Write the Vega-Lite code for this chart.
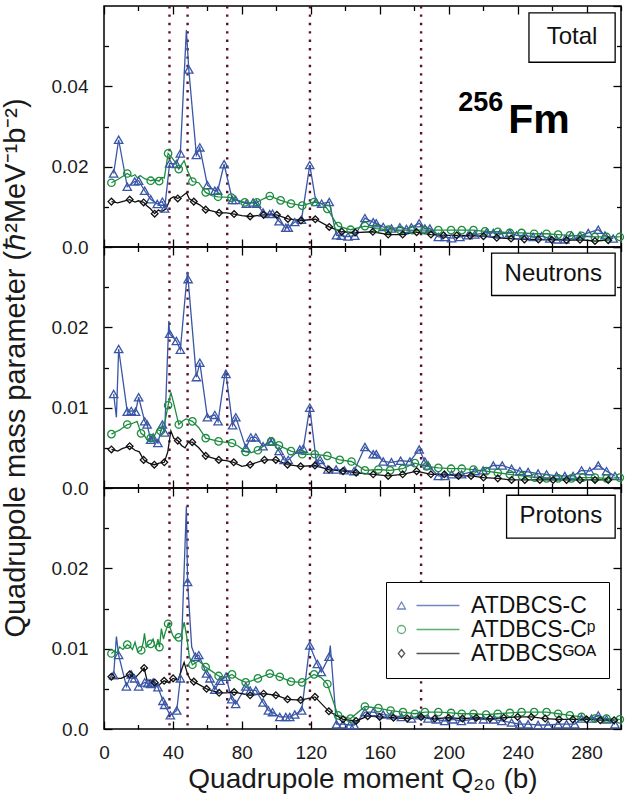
{
"$schema":"https://vega.github.io/schema/vega-lite/v6.json",
"padding":{"left":0,"top":4,"right":0,"bottom":0},
"bounds":"flush",
"config":{"font":"Liberation Sans","view":{"stroke":"#000","strokeWidth":1.5},
"axis":{"domain":false,"grid":false,"tickColor":"#000","tickWidth":1.3,"labelColor":"#1a1a1a","titleColor":"#1a1a1a","labelFontSize":19,"titleFontSize":25,"titleFontWeight":"normal","labelFlush":false,"labelOverlap":false,"labelBound":false}},
"datasets":{
"guides":[{"q":38},{"q":48.5},{"q":71.5},{"q":119.5},{"q":184}],
"tC":[{"q":5.6,"v":0.0183},{"q":8.5,"v":0.0267},{"q":13.5,"v":0.015},{"q":17.8,"v":0.0163},{"q":20.1,"v":0.0165},{"q":23.6,"v":0.014},{"q":27.1,"v":0.0119},{"q":30.9,"v":0.0107},{"q":33.9,"v":0.0113},{"q":35.2,"v":0.0096},{"q":38.1,"v":0.0208},{"q":42,"v":0.0207},{"q":44.3,"v":0.0233},{"q":47.8,"v":0.054,"m":0},{"q":49.2,"v":0.0442},{"q":53.6,"v":0.0229},{"q":55.6,"v":0.0248},{"q":60,"v":0.0154},{"q":64.3,"v":0.014},{"q":66,"v":0.014},{"q":69.7,"v":0.0206},{"q":74.5,"v":0.0117},{"q":76.4,"v":0.0117},{"q":82.6,"v":0.0108},{"q":86.5,"v":0.0111},{"q":88.5,"v":0.0108},{"q":92.3,"v":0.0086},{"q":96.2,"v":0.0082},{"q":97.8,"v":0.0083},{"q":101.6,"v":0.0064},{"q":105.5,"v":0.0048},{"q":106.9,"v":0.0048},{"q":110.7,"v":0.0062},{"q":114.6,"v":0.0068},{"q":119.4,"v":0.0204},{"q":123,"v":0.0112},{"q":126.3,"v":0.0108},{"q":130.7,"v":0.0112},{"q":134.9,"v":0.0029},{"q":137.7,"v":0.0028},{"q":141.6,"v":0.0026},{"q":145.5,"v":0.0028},{"q":151.4,"v":0.0072},{"q":156.2,"v":0.0062},{"q":158,"v":0.0059},{"q":162,"v":0.005},{"q":166.8,"v":0.0046},{"q":171.7,"v":0.0049},{"q":175.5,"v":0.0045},{"q":178.4,"v":0.0049},{"q":182.9,"v":0.0059},{"q":186.2,"v":0.0046},{"q":189.1,"v":0.0046},{"q":194,"v":0.0025},{"q":197.8,"v":0.0025},{"q":201.7,"v":0.0022},{"q":206.5,"v":0.0025},{"q":211.3,"v":0.0029},{"q":215.2,"v":0.0031},{"q":222,"v":0.0036},{"q":225.9,"v":0.0035},{"q":229.7,"v":0.0033},{"q":235.5,"v":0.0035},{"q":239.4,"v":0.0029},{"q":244.2,"v":0.0029},{"q":249,"v":0.0025},{"q":253.9,"v":0.0027},{"q":258.7,"v":0.0021},{"q":262.6,"v":0.0019},{"q":267.4,"v":0.0019},{"q":271.3,"v":0.0029},{"q":276.2,"v":0.0028},{"q":281,"v":0.0035},{"q":286.8,"v":0.0043},{"q":290.7,"v":0.0029},{"q":295.5,"v":0.0021}],
"tCp":[{"q":4.3,"v":0.016},{"q":8,"v":0.0168,"m":0},{"q":10.5,"v":0.0175,"m":0},{"q":13.5,"v":0.0183},{"q":16,"v":0.0176,"m":0},{"q":18,"v":0.018,"m":0},{"q":19.3,"v":0.0172,"m":0},{"q":21,"v":0.0178,"m":0},{"q":23.5,"v":0.017,"m":0},{"q":25.5,"v":0.0168,"m":0},{"q":27.1,"v":0.0165},{"q":29.5,"v":0.0168,"m":0},{"q":32,"v":0.0164},{"q":33.5,"v":0.0173,"m":0},{"q":35,"v":0.0172,"m":0},{"q":37.2,"v":0.0233},{"q":39.5,"v":0.0222,"m":0},{"q":41.5,"v":0.021,"m":0},{"q":43.4,"v":0.0194},{"q":45,"v":0.0205,"m":0},{"q":46.5,"v":0.0215,"m":0},{"q":48.5,"v":0.019,"m":0},{"q":51.3,"v":0.0163},{"q":55,"v":0.016,"m":0},{"q":59,"v":0.0136},{"q":62.5,"v":0.0128,"m":0},{"q":66.2,"v":0.0125},{"q":70,"v":0.0124,"m":0},{"q":73.9,"v":0.0123},{"q":77.8,"v":0.0116,"m":0},{"q":81.7,"v":0.0111},{"q":85,"v":0.011,"m":0},{"q":88.7,"v":0.0111},{"q":92.5,"v":0.012,"m":0},{"q":96.2,"v":0.0127},{"q":102.5,"v":0.0116},{"q":108.5,"v":0.0108},{"q":115,"v":0.0103},{"q":121.9,"v":0.0112},{"q":126,"v":0.0108,"m":0},{"q":129.6,"v":0.0095},{"q":135.8,"v":0.0052},{"q":143.1,"v":0.0043},{"q":151.4,"v":0.0052},{"q":158,"v":0.0046},{"q":165,"v":0.0043},{"q":172,"v":0.0042},{"q":179,"v":0.0042},{"q":186,"v":0.0042},{"q":194,"v":0.0042},{"q":201.4,"v":0.0042},{"q":207.6,"v":0.0042},{"q":214.4,"v":0.0042},{"q":221.1,"v":0.0039},{"q":228.5,"v":0.0038},{"q":235.5,"v":0.0035},{"q":242.3,"v":0.0035},{"q":249.6,"v":0.0033},{"q":256.8,"v":0.0033},{"q":263.5,"v":0.0031},{"q":270.3,"v":0.0029},{"q":277.1,"v":0.0028},{"q":284.8,"v":0.0025},{"q":291.6,"v":0.0025},{"q":299.3,"v":0.0025}],
"tG":[{"q":4.3,"v":0.0113},{"q":8,"v":0.011,"m":0},{"q":10.5,"v":0.0113,"m":0},{"q":14.9,"v":0.0118},{"q":18,"v":0.0112,"m":0},{"q":20,"v":0.0115,"m":0},{"q":23,"v":0.0111},{"q":25,"v":0.0102,"m":0},{"q":27,"v":0.0095,"m":0},{"q":29.4,"v":0.0083},{"q":31.5,"v":0.0092,"m":0},{"q":33.5,"v":0.0088,"m":0},{"q":36,"v":0.0095,"m":0},{"q":38.5,"v":0.012,"m":0},{"q":40.5,"v":0.0125,"m":0},{"q":42.8,"v":0.0121},{"q":45,"v":0.0125,"m":0},{"q":47.9,"v":0.0135,"m":0},{"q":49.5,"v":0.012,"m":0},{"q":52.1,"v":0.0113},{"q":55.5,"v":0.0105,"m":0},{"q":59,"v":0.0093},{"q":62.5,"v":0.009,"m":0},{"q":66.8,"v":0.0085},{"q":71,"v":0.0085,"m":0},{"q":75.5,"v":0.0082},{"q":80,"v":0.0078,"m":0},{"q":84.8,"v":0.0076},{"q":88.7,"v":0.0078,"m":0},{"q":92.6,"v":0.008},{"q":100.3,"v":0.008},{"q":106.7,"v":0.007},{"q":114.3,"v":0.0066},{"q":122.6,"v":0.0069},{"q":130.7,"v":0.005},{"q":138,"v":0.0038},{"q":145.8,"v":0.0036},{"q":156,"v":0.0038},{"q":164.9,"v":0.0031},{"q":173.3,"v":0.0031},{"q":181.4,"v":0.0037},{"q":189.7,"v":0.0031},{"q":197,"v":0.0029},{"q":204.7,"v":0.0029},{"q":212.4,"v":0.0028},{"q":220.2,"v":0.0027},{"q":227.9,"v":0.0023},{"q":236.2,"v":0.0021},{"q":243.9,"v":0.0019},{"q":252,"v":0.0019},{"q":259.8,"v":0.0018},{"q":268.4,"v":0.0017},{"q":276.2,"v":0.0018},{"q":284.9,"v":0.0015},{"q":292.6,"v":0.0017}],
"nC":[{"q":5.6,"v":0.0117},{"q":7.2,"v":0.0088,"m":0},{"q":8.5,"v":0.0173},{"q":13.5,"v":0.0095},{"q":15.8,"v":0.0096},{"q":18.3,"v":0.0095},{"q":20.1,"v":0.0113},{"q":23.6,"v":0.0083},{"q":25,"v":0.0079},{"q":27.1,"v":0.006},{"q":28.5,"v":0.0063},{"q":31.3,"v":0.0056},{"q":33.9,"v":0.0079},{"q":35.2,"v":0.0069},{"q":37.6,"v":0.0208,"m":0},{"q":38.1,"v":0.0192},{"q":42,"v":0.0183},{"q":44.3,"v":0.0172},{"q":48.4,"v":0.0269,"m":0},{"q":48.8,"v":0.026},{"q":53.6,"v":0.0138},{"q":55.6,"v":0.0156},{"q":60,"v":0.0088},{"q":64.3,"v":0.0091},{"q":66.2,"v":0.0083},{"q":70.5,"v":0.0147,"m":0},{"q":70.8,"v":0.0142},{"q":74.6,"v":0.0078},{"q":76.5,"v":0.0088},{"q":82.3,"v":0.005},{"q":85.2,"v":0.0063},{"q":88.1,"v":0.0063},{"q":92.3,"v":0.0052},{"q":96.2,"v":0.0058},{"q":97.6,"v":0.0058},{"q":101.6,"v":0.0046},{"q":104.5,"v":0.0035},{"q":106.9,"v":0.0035},{"q":113.6,"v":0.0048},{"q":115.6,"v":0.0049},{"q":119.4,"v":0.01},{"q":123.3,"v":0.0031},{"q":125.4,"v":0.0035},{"q":129.9,"v":0.0023},{"q":134.7,"v":0.0023},{"q":139.5,"v":0.0022},{"q":145.1,"v":0.0021},{"q":151.4,"v":0.0051},{"q":156.2,"v":0.0042},{"q":158,"v":0.0042},{"q":162,"v":0.0033},{"q":166.8,"v":0.0032},{"q":172.1,"v":0.0034},{"q":177.5,"v":0.0033},{"q":182.9,"v":0.0048},{"q":186.2,"v":0.0033},{"q":188.1,"v":0.0028},{"q":194,"v":0.0015},{"q":197.8,"v":0.0015},{"q":201.7,"v":0.0017},{"q":207.5,"v":0.0017},{"q":215.2,"v":0.0021},{"q":220,"v":0.0022},{"q":225.9,"v":0.0028},{"q":231.1,"v":0.0028},{"q":236.5,"v":0.0024},{"q":241.3,"v":0.0021},{"q":246.1,"v":0.002},{"q":251.9,"v":0.0018},{"q":256.8,"v":0.0017},{"q":262.6,"v":0.0015},{"q":267.4,"v":0.0015},{"q":272.2,"v":0.0015},{"q":277.1,"v":0.0022},{"q":281.9,"v":0.0021},{"q":286.8,"v":0.0028},{"q":291.6,"v":0.0021},{"q":296.5,"v":0.0015}],
"nCp":[{"q":4.3,"v":0.0067},{"q":7,"v":0.007,"m":0},{"q":9,"v":0.0072,"m":0},{"q":13.5,"v":0.0079},{"q":16,"v":0.008,"m":0},{"q":19.2,"v":0.0083,"m":0},{"q":21.5,"v":0.0068},{"q":23.5,"v":0.0065,"m":0},{"q":25,"v":0.006,"m":0},{"q":27.1,"v":0.0062},{"q":29.5,"v":0.0066,"m":0},{"q":31,"v":0.0073,"m":0},{"q":32.9,"v":0.0071},{"q":35,"v":0.0078,"m":0},{"q":37.2,"v":0.0103},{"q":38.8,"v":0.0119,"m":0},{"q":40.5,"v":0.0105,"m":0},{"q":43.4,"v":0.0079},{"q":45.5,"v":0.0083,"m":0},{"q":47.5,"v":0.0086,"m":0},{"q":51.3,"v":0.0083},{"q":55,"v":0.0075,"m":0},{"q":59,"v":0.0062},{"q":66.5,"v":0.0058},{"q":74.3,"v":0.0056},{"q":78,"v":0.0052,"m":0},{"q":82.2,"v":0.0045},{"q":85.5,"v":0.0044,"m":0},{"q":89.3,"v":0.0047},{"q":93,"v":0.0053,"m":0},{"q":97,"v":0.0058},{"q":101.5,"v":0.0053},{"q":108.5,"v":0.0046},{"q":115,"v":0.0042},{"q":122.3,"v":0.0042},{"q":129.6,"v":0.004},{"q":136.8,"v":0.0035},{"q":143.6,"v":0.0033},{"q":151.4,"v":0.0022},{"q":159.2,"v":0.0023},{"q":166,"v":0.0022},{"q":173.3,"v":0.0024},{"q":180.4,"v":0.0031},{"q":187.2,"v":0.0027},{"q":194,"v":0.0025},{"q":201.4,"v":0.0024},{"q":207.6,"v":0.0024},{"q":214.4,"v":0.0023},{"q":221.7,"v":0.0021},{"q":228.5,"v":0.0019},{"q":235.5,"v":0.0017},{"q":242.6,"v":0.0015},{"q":250,"v":0.0013},{"q":256.8,"v":0.0012},{"q":263.5,"v":0.0012},{"q":271.3,"v":0.0012},{"q":277.7,"v":0.0013},{"q":284.9,"v":0.0013},{"q":291.6,"v":0.0012},{"q":299.3,"v":0.0013}],
"nG":[{"q":4.3,"v":0.0048},{"q":8,"v":0.0046,"m":0},{"q":10.5,"v":0.0049,"m":0},{"q":14.9,"v":0.0052},{"q":18,"v":0.0047,"m":0},{"q":20.5,"v":0.0045,"m":0},{"q":23,"v":0.0035},{"q":26,"v":0.0031,"m":0},{"q":29.2,"v":0.0029},{"q":32,"v":0.0031,"m":0},{"q":35,"v":0.0032},{"q":37,"v":0.0045,"m":0},{"q":38.8,"v":0.0071,"m":0},{"q":40.5,"v":0.0062,"m":0},{"q":42.8,"v":0.0059},{"q":45,"v":0.0053,"m":0},{"q":47,"v":0.005,"m":0},{"q":49,"v":0.0057,"m":0},{"q":51.2,"v":0.0057},{"q":55,"v":0.005,"m":0},{"q":59,"v":0.004},{"q":66.6,"v":0.0035},{"q":71,"v":0.0034,"m":0},{"q":75.3,"v":0.0032},{"q":80,"v":0.0027,"m":0},{"q":84.8,"v":0.0029},{"q":93.1,"v":0.0035},{"q":99.7,"v":0.0035},{"q":106.5,"v":0.0029},{"q":114.1,"v":0.0027},{"q":122.4,"v":0.0028},{"q":130.5,"v":0.0023},{"q":138.7,"v":0.0021},{"q":146.3,"v":0.0019},{"q":156.2,"v":0.0017},{"q":164.9,"v":0.0015},{"q":173.3,"v":0.0017},{"q":181.4,"v":0.0021},{"q":189.7,"v":0.0017},{"q":197.5,"v":0.0017},{"q":205.7,"v":0.0015},{"q":213,"v":0.0015},{"q":220.2,"v":0.0013},{"q":228.5,"v":0.0012},{"q":236.5,"v":0.001},{"q":244.2,"v":0.001},{"q":252.9,"v":0.001},{"q":260.6,"v":0.001},{"q":268.4,"v":0.001},{"q":276.2,"v":0.001},{"q":284.9,"v":0.001},{"q":292.6,"v":0.001}],
"pC":[{"q":5.6,"v":0.0067},{"q":7.2,"v":0.0115,"m":0},{"q":8.5,"v":0.0092},{"q":13,"v":0.0053},{"q":15.8,"v":0.0068},{"q":17.7,"v":0.0063},{"q":20.1,"v":0.0053},{"q":23.6,"v":0.0058},{"q":25.5,"v":0.0057},{"q":27.1,"v":0.0056},{"q":28.5,"v":0.0058},{"q":31.3,"v":0.0052},{"q":34.2,"v":0.0035},{"q":35.2,"v":0.003},{"q":38.5,"v":0.0017},{"q":42.2,"v":0.0023},{"q":44.3,"v":0.0063},{"q":47.8,"v":0.0277,"m":0},{"q":48.5,"v":0.0183},{"q":50.9,"v":0.0102,"m":0},{"q":53,"v":0.009},{"q":55,"v":0.0092},{"q":59.5,"v":0.0069},{"q":61.5,"v":0.0063},{"q":64.3,"v":0.0049},{"q":67.3,"v":0.006},{"q":70.8,"v":0.0065},{"q":74.1,"v":0.0037},{"q":76.4,"v":0.0031},{"q":82.3,"v":0.0053},{"q":84.8,"v":0.0048},{"q":88.1,"v":0.0048},{"q":92.3,"v":0.0033},{"q":95.4,"v":0.0023},{"q":97.8,"v":0.0021},{"q":102,"v":0.0015},{"q":105.5,"v":0.0015},{"q":107.8,"v":0.0015},{"q":110.7,"v":0.0018},{"q":114.7,"v":0.0023},{"q":119.4,"v":0.0104},{"q":123.8,"v":0.0081},{"q":126.1,"v":0.0071},{"q":130.6,"v":0.009},{"q":131.3,"v":0.0104,"m":0},{"q":134.9,"v":0.0006},{"q":138.7,"v":0.0006},{"q":142.6,"v":0.0005},{"q":145.2,"v":0.0005},{"q":151.4,"v":0.0021},{"q":156.2,"v":0.0021},{"q":162,"v":0.0018},{"q":166.8,"v":0.0017},{"q":172.6,"v":0.0015},{"q":178.4,"v":0.0013},{"q":183.2,"v":0.0017},{"q":188,"v":0.0013},{"q":192.9,"v":0.0012},{"q":197.7,"v":0.001},{"q":202.5,"v":0.0012},{"q":207.4,"v":0.001},{"q":213.4,"v":0.0012},{"q":220.2,"v":0.0012},{"q":226,"v":0.0012},{"q":230.9,"v":0.001},{"q":236.5,"v":0.0008},{"q":241.3,"v":0.0006},{"q":246.1,"v":0.0006},{"q":251.9,"v":0.0005},{"q":257.7,"v":0.0005},{"q":263.5,"v":0.0006},{"q":268.4,"v":0.0006},{"q":273.2,"v":0.0006},{"q":277.1,"v":0.0013},{"q":282.9,"v":0.0013},{"q":286.8,"v":0.0017},{"q":291.6,"v":0.0012},{"q":296.5,"v":0.0006}],
"pCp":[{"q":4.3,"v":0.0094},{"q":6,"v":0.0097,"m":0},{"q":7.5,"v":0.0095,"m":0},{"q":9,"v":0.0102,"m":0},{"q":11,"v":0.0099,"m":0},{"q":13.5,"v":0.0105},{"q":15,"v":0.0103,"m":0},{"q":16.5,"v":0.0099,"m":0},{"q":18,"v":0.0108,"m":0},{"q":19.5,"v":0.0096,"m":0},{"q":21.6,"v":0.0098},{"q":22.8,"v":0.0108,"m":0},{"q":23.5,"v":0.0119,"m":0},{"q":24.5,"v":0.0102,"m":0},{"q":26,"v":0.0105,"m":0},{"q":27.1,"v":0.0106},{"q":28.5,"v":0.0112,"m":0},{"q":30,"v":0.01,"m":0},{"q":31.3,"v":0.0112,"m":0},{"q":32.2,"v":0.0102},{"q":33.3,"v":0.0125,"m":0},{"q":34.5,"v":0.0112,"m":0},{"q":35.5,"v":0.012,"m":0},{"q":37.2,"v":0.0131},{"q":38.5,"v":0.0125,"m":0},{"q":39.8,"v":0.0117,"m":0},{"q":41,"v":0.0113,"m":0},{"q":43.4,"v":0.0114},{"q":45,"v":0.0117,"m":0},{"q":46.5,"v":0.0133,"m":0},{"q":48,"v":0.0115,"m":0},{"q":49.5,"v":0.009,"m":0},{"q":51.3,"v":0.008},{"q":55,"v":0.0085,"m":0},{"q":59,"v":0.0077},{"q":62.5,"v":0.0072,"m":0},{"q":66.5,"v":0.0066},{"q":70,"v":0.0064,"m":0},{"q":74.3,"v":0.0068},{"q":78,"v":0.0062,"m":0},{"q":82.2,"v":0.0058},{"q":85.5,"v":0.006,"m":0},{"q":89.3,"v":0.0063},{"q":96.2,"v":0.0069},{"q":102,"v":0.0065},{"q":108.5,"v":0.0059},{"q":115,"v":0.0058},{"q":121.9,"v":0.0068},{"q":126,"v":0.0064,"m":0},{"q":129.6,"v":0.0056},{"q":135.8,"v":0.0017},{"q":143.1,"v":0.0013},{"q":151.4,"v":0.0028},{"q":159.2,"v":0.0026},{"q":166.3,"v":0.0023},{"q":173.5,"v":0.0021},{"q":180.4,"v":0.0019},{"q":186.2,"v":0.0021},{"q":194,"v":0.0021},{"q":201.4,"v":0.002},{"q":207.6,"v":0.0019},{"q":214.4,"v":0.0019},{"q":221.7,"v":0.0018},{"q":228.5,"v":0.0019},{"q":235.5,"v":0.002},{"q":242.3,"v":0.0021},{"q":249.6,"v":0.0021},{"q":256.8,"v":0.0021},{"q":263.5,"v":0.0019},{"q":270.3,"v":0.0017},{"q":277.1,"v":0.0015},{"q":284.8,"v":0.0013},{"q":291.6,"v":0.0013},{"q":299.3,"v":0.0012}],
"pG":[{"q":4.3,"v":0.0065},{"q":7,"v":0.0063,"m":0},{"q":10,"v":0.0063,"m":0},{"q":14.9,"v":0.0068},{"q":17.7,"v":0.0063,"m":0},{"q":20,"v":0.0068,"m":0},{"q":23.3,"v":0.0076},{"q":25,"v":0.006,"m":0},{"q":27,"v":0.0061,"m":0},{"q":29.4,"v":0.0058},{"q":31.5,"v":0.0054,"m":0},{"q":34.9,"v":0.006},{"q":37.5,"v":0.0058,"m":0},{"q":40.1,"v":0.0063},{"q":43,"v":0.0061,"m":0},{"q":46.5,"v":0.0083,"m":0},{"q":48.5,"v":0.0068,"m":0},{"q":50,"v":0.0062,"m":0},{"q":52.1,"v":0.0059},{"q":55.5,"v":0.0055,"m":0},{"q":59.5,"v":0.005},{"q":66.8,"v":0.0045},{"q":71,"v":0.0045,"m":0},{"q":75.5,"v":0.0046},{"q":84.8,"v":0.0042},{"q":92.6,"v":0.0044},{"q":99.7,"v":0.0042},{"q":106.5,"v":0.0037},{"q":114.1,"v":0.0036},{"q":122.4,"v":0.004},{"q":130.5,"v":0.0022},{"q":138.7,"v":0.0012},{"q":146.3,"v":0.001},{"q":153,"v":0.0016},{"q":160,"v":0.0015},{"q":168,"v":0.0014},{"q":176,"v":0.0013},{"q":184,"v":0.0015},{"q":192,"v":0.0013},{"q":200,"v":0.0014},{"q":208,"v":0.0013},{"q":216,"v":0.0014},{"q":224,"v":0.0013},{"q":232,"v":0.0014},{"q":240,"v":0.0015},{"q":248,"v":0.0015},{"q":256,"v":0.0013},{"q":264,"v":0.0012},{"q":272,"v":0.0012},{"q":280,"v":0.0012},{"q":288,"v":0.0011},{"q":296,"v":0.0011}]
},
"spacing":0,
"vconcat":[
{"width":517,"height":241,
"resolve":{"axis":{"x":"independent","y":"independent"}},
"layer":[
{"data":{"name":"guides"},"mark":{"type":"rule","color":"#5e0f2e","strokeDash":[2.4,6],"strokeWidth":2.4},
 "encoding":{"x":{"field":"q","type":"quantitative","scale":{"domain":[0,300],"nice":false},"axis":{"orient":"top","values":[0,40,80,120,160,200,240,280],"tickSize":-8,"labels":false,"title":null}}}},
{"data":{"name":"tC"},"mark":{"type":"line","color":"#3a56a6","strokeWidth":1.3},
 "encoding":{"x":{"field":"q","type":"quantitative","scale":{"domain":[0,300],"nice":false},"axis":{"orient":"bottom","values":[0,40,80,120,160,200,240,280],"tickSize":-8,"labels":false,"title":null}},
 "y":{"field":"v","type":"quantitative","scale":{"domain":[0,0.06],"nice":false},"axis":{"orient":"left","values":[0,0.02,0.04],"tickSize":-8,"labelPadding":24,"labelExpr":"datum.value === 0 ? '0.0' : format(datum.value, '.2f')","title":null}}}},
{"data":{"name":"tCp"},"mark":{"type":"line","color":"#1c8d3f","strokeWidth":1.3},
 "encoding":{"x":{"field":"q","type":"quantitative","scale":{"domain":[0,300],"nice":false},"axis":{"orient":"bottom","values":[20,60,100,140,180,220,260,300],"tickSize":-4.5,"labels":false,"title":null}},
 "y":{"field":"v","type":"quantitative","scale":{"domain":[0,0.06],"nice":false},"axis":{"orient":"left","values":[0.01,0.03,0.05],"tickSize":-4.5,"labels":false,"title":null}}}},
{"data":{"name":"tG"},"mark":{"type":"line","color":"#111111","strokeWidth":1.3},
 "encoding":{"x":{"field":"q","type":"quantitative","scale":{"domain":[0,300],"nice":false},"axis":{"orient":"top","values":[20,60,100,140,180,220,260,300],"tickSize":-4.5,"labels":false,"title":null}},
 "y":{"field":"v","type":"quantitative","scale":{"domain":[0,0.06],"nice":false},"axis":{"orient":"right","values":[0,0.02,0.04,0.06],"tickSize":-8,"labels":false,"title":null}}}},
{"data":{"name":"tC"},"transform":[{"filter":"datum.m !== 0"}],"mark":{"type":"point","shape":"triangle-up","filled":false,"color":"#3a56a6","size":70,"strokeWidth":1.3,"opacity":1},
 "encoding":{"x":{"field":"q","type":"quantitative","scale":{"domain":[0,300],"nice":false},"axis":null},
 "y":{"field":"v","type":"quantitative","scale":{"domain":[0,0.06],"nice":false},"axis":{"orient":"right","values":[0.01,0.03,0.05],"tickSize":-4.5,"labels":false,"title":null}}}},
{"data":{"name":"tCp"},"transform":[{"filter":"datum.m !== 0"}],"mark":{"type":"point","shape":"circle","filled":false,"color":"#1c8d3f","size":55,"strokeWidth":1.3,"opacity":1},
 "encoding":{"x":{"field":"q","type":"quantitative","scale":{"domain":[0,300],"nice":false},"axis":null},
 "y":{"field":"v","type":"quantitative","scale":{"domain":[0,0.06],"nice":false},"axis":null}}},
{"data":{"name":"tG"},"transform":[{"filter":"datum.m !== 0"}],"mark":{"type":"point","shape":"diamond","filled":false,"color":"#111111","size":45,"strokeWidth":1.3,"opacity":1},
 "encoding":{"x":{"field":"q","type":"quantitative","scale":{"domain":[0,300],"nice":false},"axis":null},
 "y":{"field":"v","type":"quantitative","scale":{"domain":[0,0.06],"nice":false},"axis":null}}},
{"data":{"values":[{}]},"mark":{"type":"rect","fill":"#ffffff","stroke":"#000000","strokeWidth":1.3},
 "encoding":{"x":{"datum":246.6,"type":"quantitative","axis":null},"x2":{"datum":296.6},"y":{"datum":0.0583,"type":"quantitative","axis":null},"y2":{"datum":0.046}}},
{"data":{"values":[{}]},"mark":{"type":"text","text":"Total","fontSize":24,"align":"center","baseline":"middle","color":"#111111"},
 "encoding":{"x":{"datum":271.6,"type":"quantitative","axis":null},"y":{"datum":0.0522,"type":"quantitative","axis":null}}},
{"data":{"values":[{}]},"mark":{"type":"text","text":"256","fontSize":27,"fontWeight":"bold","align":"left","baseline":"alphabetic","color":"#000000"},
 "encoding":{"x":{"datum":205.6,"type":"quantitative","axis":null},"y":{"datum":0.0338,"type":"quantitative","axis":null}}},
{"data":{"values":[{}]},"mark":{"type":"text","text":"Fm","fontSize":41,"fontWeight":"bold","align":"left","baseline":"alphabetic","color":"#000000"},
 "encoding":{"x":{"datum":234.6,"type":"quantitative","axis":null},"y":{"datum":0.0283,"type":"quantitative","axis":null}}}
]},
{"width":517,"height":241,
"resolve":{"axis":{"x":"independent","y":"independent"}},
"layer":[
{"data":{"name":"guides"},"mark":{"type":"rule","color":"#5e0f2e","strokeDash":[2.4,6],"strokeWidth":2.4},
 "encoding":{"x":{"field":"q","type":"quantitative","scale":{"domain":[0,300],"nice":false},"axis":{"orient":"top","values":[0,40,80,120,160,200,240,280],"tickSize":-8,"labels":false,"title":null}}}},
{"data":{"name":"nC"},"mark":{"type":"line","color":"#3a56a6","strokeWidth":1.3},
 "encoding":{"x":{"field":"q","type":"quantitative","scale":{"domain":[0,300],"nice":false},"axis":{"orient":"bottom","values":[0,40,80,120,160,200,240,280],"tickSize":-8,"labels":false,"title":null}},
 "y":{"field":"v","type":"quantitative","scale":{"domain":[0,0.03],"nice":false},"axis":{"orient":"left","values":[0,0.01,0.02],"tickSize":-8,"labelPadding":24,"labelExpr":"datum.value === 0 ? '0.0' : format(datum.value, '.2f')","title":"Quadrupole mass parameter (ℏ²MeV⁻¹b⁻²)","titleFontSize":29,"titlePadding":21}}}},
{"data":{"name":"nCp"},"mark":{"type":"line","color":"#1c8d3f","strokeWidth":1.3},
 "encoding":{"x":{"field":"q","type":"quantitative","scale":{"domain":[0,300],"nice":false},"axis":{"orient":"bottom","values":[20,60,100,140,180,220,260,300],"tickSize":-4.5,"labels":false,"title":null}},
 "y":{"field":"v","type":"quantitative","scale":{"domain":[0,0.03],"nice":false},"axis":{"orient":"left","values":[0.005,0.015,0.025],"tickSize":-4.5,"labels":false,"title":null}}}},
{"data":{"name":"nG"},"mark":{"type":"line","color":"#111111","strokeWidth":1.3},
 "encoding":{"x":{"field":"q","type":"quantitative","scale":{"domain":[0,300],"nice":false},"axis":{"orient":"top","values":[20,60,100,140,180,220,260,300],"tickSize":-4.5,"labels":false,"title":null}},
 "y":{"field":"v","type":"quantitative","scale":{"domain":[0,0.03],"nice":false},"axis":{"orient":"right","values":[0,0.01,0.02,0.03],"tickSize":-8,"labels":false,"title":null}}}},
{"data":{"name":"nC"},"transform":[{"filter":"datum.m !== 0"}],"mark":{"type":"point","shape":"triangle-up","filled":false,"color":"#3a56a6","size":70,"strokeWidth":1.3,"opacity":1},
 "encoding":{"x":{"field":"q","type":"quantitative","scale":{"domain":[0,300],"nice":false},"axis":null},
 "y":{"field":"v","type":"quantitative","scale":{"domain":[0,0.03],"nice":false},"axis":{"orient":"right","values":[0.005,0.015,0.025],"tickSize":-4.5,"labels":false,"title":null}}}},
{"data":{"name":"nCp"},"transform":[{"filter":"datum.m !== 0"}],"mark":{"type":"point","shape":"circle","filled":false,"color":"#1c8d3f","size":55,"strokeWidth":1.3,"opacity":1},
 "encoding":{"x":{"field":"q","type":"quantitative","scale":{"domain":[0,300],"nice":false},"axis":null},
 "y":{"field":"v","type":"quantitative","scale":{"domain":[0,0.03],"nice":false},"axis":null}}},
{"data":{"name":"nG"},"transform":[{"filter":"datum.m !== 0"}],"mark":{"type":"point","shape":"diamond","filled":false,"color":"#111111","size":45,"strokeWidth":1.3,"opacity":1},
 "encoding":{"x":{"field":"q","type":"quantitative","scale":{"domain":[0,300],"nice":false},"axis":null},
 "y":{"field":"v","type":"quantitative","scale":{"domain":[0,0.03],"nice":false},"axis":null}}},
{"data":{"values":[{}]},"mark":{"type":"rect","fill":"#ffffff","stroke":"#000000","strokeWidth":1.3},
 "encoding":{"x":{"datum":224.9,"type":"quantitative","axis":null},"x2":{"datum":296.6},"y":{"datum":0.02925,"type":"quantitative","axis":null},"y2":{"datum":0.02396}}},
{"data":{"values":[{}]},"mark":{"type":"text","text":"Neutrons","fontSize":24,"align":"center","baseline":"middle","color":"#111111"},
 "encoding":{"x":{"datum":260.7,"type":"quantitative","axis":null},"y":{"datum":0.0266,"type":"quantitative","axis":null}}}
]},
{"width":517,"height":241,
"resolve":{"axis":{"x":"independent","y":"independent"}},
"layer":[
{"data":{"name":"guides"},"mark":{"type":"rule","color":"#5e0f2e","strokeDash":[2.4,6],"strokeWidth":2.4},
 "encoding":{"x":{"field":"q","type":"quantitative","scale":{"domain":[0,300],"nice":false},"axis":{"orient":"top","values":[0,40,80,120,160,200,240,280],"tickSize":-8,"labels":false,"title":null}}}},
{"data":{"name":"pC"},"mark":{"type":"line","color":"#3a56a6","strokeWidth":1.3},
 "encoding":{"x":{"field":"q","type":"quantitative","scale":{"domain":[0,300],"nice":false},"axis":{"orient":"bottom","values":[0,40,80,120,160,200,240,280],"tickSize":-8,"labelPadding":22,"title":"Quadrupole moment Q₂₀ (b)","titleFontSize":28,"titlePadding":3}},
 "y":{"field":"v","type":"quantitative","scale":{"domain":[0,0.03],"nice":false},"axis":{"orient":"left","values":[0,0.01,0.02],"tickSize":-8,"labelPadding":24,"labelExpr":"datum.value === 0 ? '0.0' : format(datum.value, '.2f')","title":null}}}},
{"data":{"name":"pCp"},"mark":{"type":"line","color":"#1c8d3f","strokeWidth":1.3},
 "encoding":{"x":{"field":"q","type":"quantitative","scale":{"domain":[0,300],"nice":false},"axis":{"orient":"bottom","values":[20,60,100,140,180,220,260,300],"tickSize":-4.5,"labels":false,"title":null}},
 "y":{"field":"v","type":"quantitative","scale":{"domain":[0,0.03],"nice":false},"axis":{"orient":"left","values":[0.005,0.015,0.025],"tickSize":-4.5,"labels":false,"title":null}}}},
{"data":{"name":"pG"},"mark":{"type":"line","color":"#111111","strokeWidth":1.3},
 "encoding":{"x":{"field":"q","type":"quantitative","scale":{"domain":[0,300],"nice":false},"axis":{"orient":"top","values":[20,60,100,140,180,220,260,300],"tickSize":-4.5,"labels":false,"title":null}},
 "y":{"field":"v","type":"quantitative","scale":{"domain":[0,0.03],"nice":false},"axis":{"orient":"right","values":[0,0.01,0.02,0.03],"tickSize":-8,"labels":false,"title":null}}}},
{"data":{"name":"pC"},"transform":[{"filter":"datum.m !== 0"}],"mark":{"type":"point","shape":"triangle-up","filled":false,"color":"#3a56a6","size":70,"strokeWidth":1.3,"opacity":1},
 "encoding":{"x":{"field":"q","type":"quantitative","scale":{"domain":[0,300],"nice":false},"axis":null},
 "y":{"field":"v","type":"quantitative","scale":{"domain":[0,0.03],"nice":false},"axis":{"orient":"right","values":[0.005,0.015,0.025],"tickSize":-4.5,"labels":false,"title":null}}}},
{"data":{"name":"pCp"},"transform":[{"filter":"datum.m !== 0"}],"mark":{"type":"point","shape":"circle","filled":false,"color":"#1c8d3f","size":55,"strokeWidth":1.3,"opacity":1},
 "encoding":{"x":{"field":"q","type":"quantitative","scale":{"domain":[0,300],"nice":false},"axis":null},
 "y":{"field":"v","type":"quantitative","scale":{"domain":[0,0.03],"nice":false},"axis":null}}},
{"data":{"name":"pG"},"transform":[{"filter":"datum.m !== 0"}],"mark":{"type":"point","shape":"diamond","filled":false,"color":"#111111","size":45,"strokeWidth":1.3,"opacity":1},
 "encoding":{"x":{"field":"q","type":"quantitative","scale":{"domain":[0,300],"nice":false},"axis":null},
 "y":{"field":"v","type":"quantitative","scale":{"domain":[0,0.03],"nice":false},"axis":null}}},
{"data":{"values":[{}]},"mark":{"type":"rect","fill":"#ffffff","stroke":"#000000","strokeWidth":1.3},
 "encoding":{"x":{"datum":233.6,"type":"quantitative","axis":null},"x2":{"datum":296.6},"y":{"datum":0.0291,"type":"quantitative","axis":null},"y2":{"datum":0.02375}}},
{"data":{"values":[{}]},"mark":{"type":"text","text":"Protons","fontSize":24,"align":"center","baseline":"middle","color":"#111111"},
 "encoding":{"x":{"datum":265.1,"type":"quantitative","axis":null},"y":{"datum":0.0265,"type":"quantitative","axis":null}}},
{"data":{"values":[{"s":"ATDBCS-C"},{"s":"ATDBCS-Cᵖ"},{"s":"ATDBCSᴳᴼᴬ"}]},"transform":[{"filter":"false"}],
 "mark":{"type":"point","filled":false},
 "encoding":{
  "color":{"field":"s","type":"nominal","scale":{"domain":["ATDBCS-C","ATDBCS-Cᵖ","ATDBCSᴳᴼᴬ"],"range":["#3a56a6","#1c8d3f","#111111"]},
   "legend":{"orient":"none","legendX":282,"legendY":576,"title":null,"labelFontSize":23,"labelColor":"#111111","symbolSize":400,"symbolStrokeWidth":1.3,"padding":12,"rowPadding":-0.5,"labelOffset":50,"strokeColor":"#000000","fillColor":"#ffffff","symbolFillColor":"transparent"}},
  "shape":{"field":"s","type":"nominal","scale":{"domain":["ATDBCS-C","ATDBCS-Cᵖ","ATDBCSᴳᴼᴬ"],"range":["M-1.2,0.35 L-0.8,-0.35 L-0.4,0.35 Z M0.7,0 L5,0","M-0.4,0 A0.4,0.4 0 1 1 -1.2,0 A0.4,0.4 0 1 1 -0.4,0 Z M0.7,0 L5,0","M-0.8,-0.4 L-0.48,0 L-0.8,0.4 L-1.12,0 Z M0.7,0 L5,0"]},
   "legend":{"orient":"none","legendX":282,"legendY":576,"title":null,"labelFontSize":23,"labelColor":"#111111","symbolSize":400,"symbolStrokeWidth":1.3,"padding":12,"rowPadding":-0.5,"labelOffset":50,"strokeColor":"#000000","fillColor":"#ffffff","symbolFillColor":"transparent"}}
 }}
]}
]
}
